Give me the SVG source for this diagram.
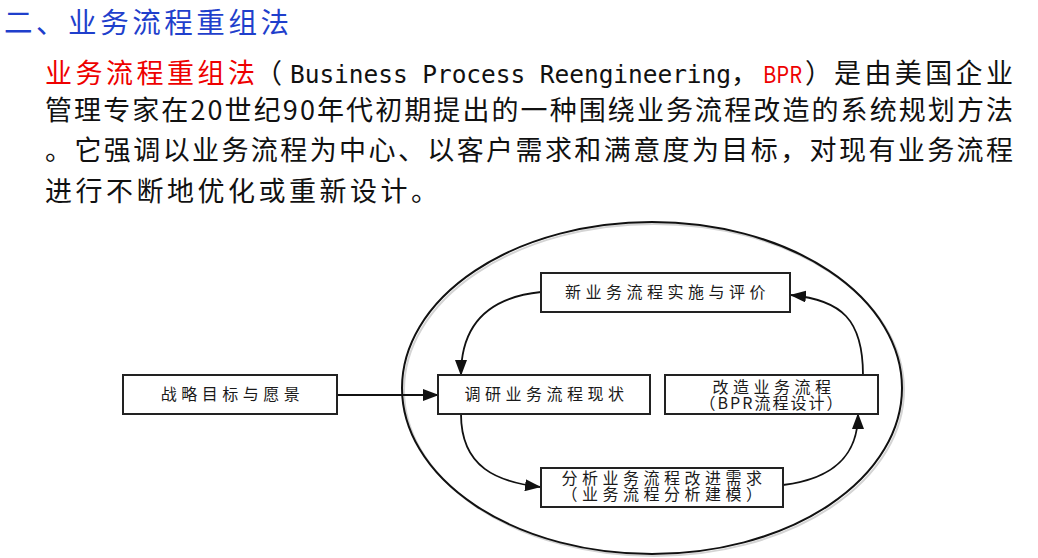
<svg xmlns="http://www.w3.org/2000/svg" width="1038" height="558" viewBox="0 0 1038 558">
  <style>
    .cjk { font-family: "Noto Sans CJK SC", "Noto Sans", sans-serif; }
    .title { font-size: 28.5px; fill: #1f3fcc; }
    .body { font-size: 27px; fill: #111111; }
    .red { fill: #ee0000; }
    .mono { font-family: "DejaVu Sans Mono", "Liberation Mono", monospace; font-size: 24.5px; }
    .box { fill: #ffffff; stroke: #222222; stroke-width: 2; }
    .lbl { font-family: "Noto Sans CJK SC", "Noto Sans", sans-serif; font-size: 16px; fill: #1a1a1a; letter-spacing: 4.5px; text-anchor: middle; }
    .conn { fill: none; stroke: #111111; stroke-width: 1.8; }
  </style>
  <defs>
    <marker id="arr" markerUnits="userSpaceOnUse" markerWidth="16" markerHeight="12" refX="15" refY="6" orient="auto">
      <path d="M0,0 L16,6 L0,12 z" fill="#111111"/>
    </marker>
  </defs>
  <rect width="1038" height="558" fill="#ffffff"/>

  <g id="heading">
    <text class="cjk title" x="4" y="33" textLength="285" lengthAdjust="spacing">二、业务流程重组法</text>
  </g>

  <g id="paragraph" class="cjk body">
    <text y="83"><tspan class="red" x="45" textLength="210" lengthAdjust="spacing">业务流程重组法</tspan><tspan x="255">（</tspan><tspan class="mono" x="290" textLength="441" lengthAdjust="spacing">Business Process Reengineering</tspan><tspan x="731">，</tspan><tspan class="red" x="763" font-size="23" textLength="39" lengthAdjust="spacingAndGlyphs">BPR</tspan><tspan x="805">）</tspan><tspan x="834" textLength="179" lengthAdjust="spacing">是由美国企业</tspan></text>
    <text x="45" y="120" textLength="968" lengthAdjust="spacing">管理专家在20世纪90年代初期提出的一种围绕业务流程改造的系统规划方法</text>
    <text x="45" y="160" textLength="968" lengthAdjust="spacing">。它强调以业务流程为中心、以客户需求和满意度为目标，对现有业务流程</text>
    <text x="45" y="201" textLength="393" lengthAdjust="spacing">进行不断地优化或重新设计。</text>
  </g>

  <g id="cycle-boundary">
    <ellipse cx="654" cy="390" rx="250" ry="166" fill="none" stroke="#d4d4d4" stroke-width="2"/>
    <ellipse cx="652" cy="388" rx="250" ry="166" fill="none" stroke="#111111" stroke-width="2"/>
  </g>

  <g id="connectors">
    <path class="conn" d="M337,395 L438,395" marker-end="url(#arr)"/>
    <path class="conn" d="M541,292 C482,298 461,330 461,375" marker-end="url(#arr)"/>
    <path class="conn" d="M461,414 C461,468 498,482 540,487" marker-end="url(#arr)"/>
    <path class="conn" d="M783,485 C840,478 858,450 858,414" marker-end="url(#arr)"/>
    <path class="conn" d="M863,375 C863,320 842,300 791,295" marker-end="url(#arr)"/>
  </g>

  <g id="node-strategy">
    <rect class="box" x="123" y="375" width="214" height="39"/>
    <text class="lbl" x="232.5" y="400">战略目标与愿景</text>
  </g>

  <g id="node-survey">
    <rect class="box" x="438" y="375" width="212" height="39"/>
    <text class="lbl" x="546.5" y="400">调研业务流程现状</text>
  </g>

  <g id="node-implement">
    <rect class="box" x="541" y="273" width="249" height="39"/>
    <text class="lbl" x="667.5" y="298">新业务流程实施与评价</text>
  </g>

  <g id="node-redesign">
    <rect class="box" x="665" y="375" width="213" height="39"/>
    <text class="lbl"><tspan x="774" y="392.5">改造业务流程</tspan><tspan x="772" y="409" letter-spacing="2">（BPR流程设计）</tspan></text>
  </g>

  <g id="node-analyze">
    <rect class="box" x="541" y="468" width="242" height="39"/>
    <text class="lbl"><tspan x="664" y="484">分析业务流程改进需求</tspan><tspan x="664" y="500">（业务流程分析建模）</tspan></text>
  </g>
</svg>
